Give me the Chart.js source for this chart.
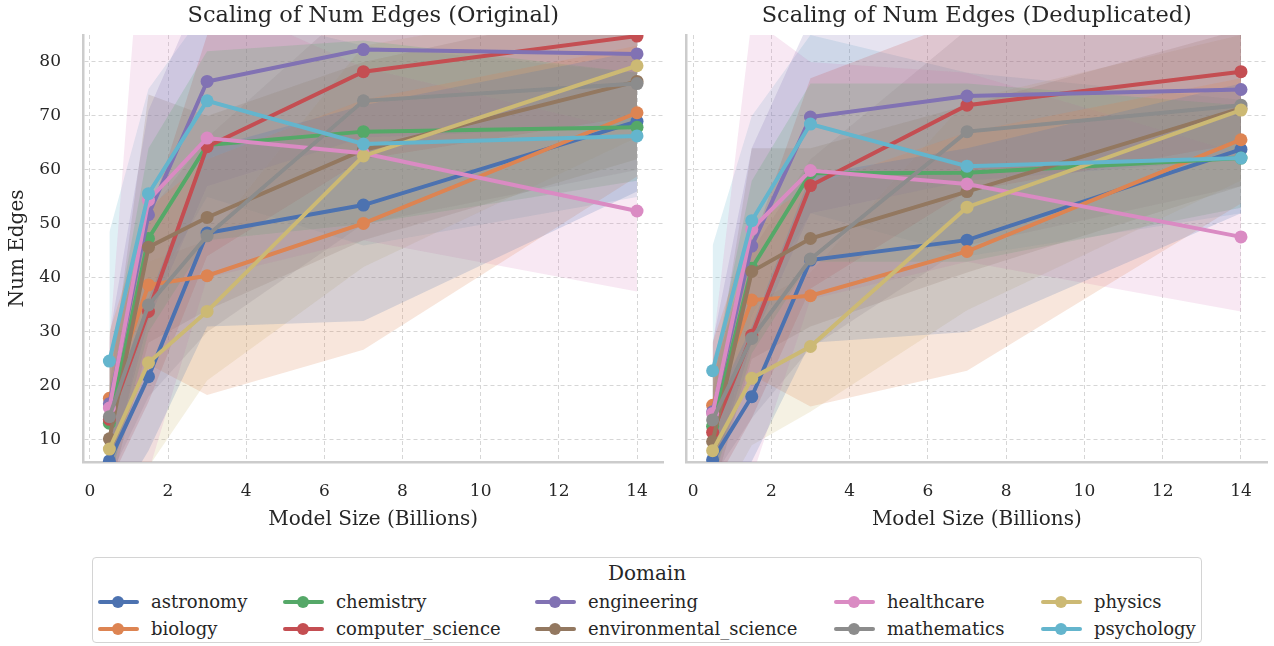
<!DOCTYPE html>
<html>
<head>
<meta charset="utf-8">
<script src="https://cdn.jsdelivr.net/npm/chart.js@4.4.1/dist/chart.umd.min.js"></script>
<style>
    body { margin: 0; background: #fff; width: 1274px; height: 646px; overflow: hidden; position: relative;
           font-family: "DejaVu Serif", serif; color: #262626; }
    canvas { position: absolute; top: 0; }
    #leftChart { left: 0; }
    #rightChart { left: 660px; }
    #legend { position: absolute; left: 92px; top: 557px; width: 1110px; height: 86px;
              border: 1.5px solid #d4d4d4; border-radius: 4px; box-sizing: border-box; }
    #legend .title { position: absolute; left: 0; width: 100%; top: 3px; text-align: center; font-size: 20px; }
    #legend .item { position: absolute; height: 22px; font-size: 18px; white-space: nowrap; }
    #legend .line { position: absolute; left: 0; top: 9px; width: 41px; height: 4px; border-radius: 2px; }
    #legend .dot { position: absolute; left: 14px; top: 5px; width: 12px; height: 12px; border-radius: 50%; }
    #legend .label { position: absolute; left: 53px; top: 0; line-height: 22px; }
</style>
</head>
<body>
<canvas id="leftChart" width="670" height="540"></canvas>
<canvas id="rightChart" width="614" height="540"></canvas>
<div id="legend"><div class="title">Domain</div></div>

<script>
// Data
const modelSizes = [0.5, 1.5, 3, 7, 14];
const domains = ["astronomy", "biology", "chemistry", "computer_science", "engineering",
                 "environmental_science", "healthcare", "mathematics", "physics", "psychology"];
const domainColors = ["#4c72b0", "#dd8452", "#55a868", "#c44e52", "#8172b3",
                      "#937860", "#da8bc3", "#8c8c8c", "#ccb974", "#64b5cd"];

// Original (mean, lower, upper per domain)
const origMean = [
    [6.1, 21.7, 48.3, 53.5, 69.0],
    [17.7, 38.7, 40.4, 50.1, 70.6],
    [13.1, 47.3, 64.6, 67.1, 67.9],
    [13.8, 33.8, 64.3, 78.2, 84.8],
    [16.7, 51.7, 76.4, 82.3, 81.5],
    [10.2, 45.7, 51.2, 63.7, 76.4],
    [15.9, 54.4, 65.9, 63.1, 52.4],
    [14.3, 35.0, 47.8, 72.8, 76.0],
    [8.3, 24.3, 33.8, 62.6, 79.3],
    [24.6, 55.6, 72.8, 64.8, 66.3]
];
const origLow = [
    [-4, 8, 31, 32, 56],
    [6, 24, 18.3, 26.7, 58.8],
    [2, 30, 47, 50, 58],
    [2, 17, 44, 62, 70],
    [4, 32, 57, 66, 68],
    [0, 28, 34, 47, 62],
    [3, 4, 40, 47, 37.5],
    [3, 18, 30, 50, 60],
    [-4, 5, 21, 42, 66],
    [1, 36, 55, 46, 55]
];
const origHigh = [
    [16, 36, 64, 72, 82],
    [30, 53, 62, 73, 83],
    [24, 64, 82, 84, 78],
    [25, 51, 85, 95, 100],
    [29, 71, 96, 98, 95],
    [20, 74, 70, 80, 91],
    [28, 122, 92, 79, 67],
    [26, 52, 66, 92, 92],
    [20, 43, 47, 83, 92],
    [48.5, 75, 90, 83, 78]
];

// Deduplicated
const dedupMean = [
    [6.3, 18.0, 43.3, 47.0, 63.8],
    [16.4, 35.9, 36.7, 44.9, 65.6],
    [12.5, 41.8, 59.4, 59.5, 62.2],
    [11.4, 29.4, 57.1, 72.0, 78.2],
    [15.2, 45.9, 69.8, 73.7, 74.9],
    [9.7, 41.2, 47.3, 56.0, 71.4],
    [14.9, 49.0, 59.9, 57.4, 47.6],
    [13.7, 28.8, 43.5, 67.1, 72.0],
    [8.0, 21.4, 27.3, 53.1, 71.1],
    [22.8, 50.6, 68.5, 60.7, 62.2]
];
const dedupLow = [
    [-4, 6, 28, 30, 52],
    [5, 22, 16.2, 22.8, 53.8],
    [2, 26, 43, 43, 53],
    [1, 14, 38, 56, 65],
    [3, 28, 52, 58, 62],
    [0, 25, 31, 41, 57],
    [2, 3, 36, 43, 33.8],
    [3, 14, 27, 46, 57],
    [-4, 9, 15.2, 34, 58],
    [1, 33, 52, 44, 52]
];
const dedupHigh = [
    [16, 31, 59, 64, 76],
    [28, 50, 57, 67, 77],
    [23, 58, 76, 76, 72],
    [22, 46, 77, 88, 92],
    [28, 64, 88, 90, 88],
    [19, 64, 64, 72, 86],
    [27, 88, 80, 78, 63],
    [25, 45, 62, 86, 88],
    [19, 35, 41, 73, 85],
    [46, 70, 85, 78, 73]
];

const yTicks = [10, 20, 30, 40, 50, 60, 70, 80];
const xTicks = [0, 2, 4, 6, 8, 10, 12, 14];

const FONT = '"DejaVu Serif", serif';
const TEXT = '#262626';

function rgba(hex, a) {
    let r = parseInt(hex.slice(1, 3), 16), g = parseInt(hex.slice(3, 5), 16), b = parseInt(hex.slice(5, 7), 16);
    return `rgba(${r},${g},${b},${a})`;
}

function toPoints(arr) {
    return modelSizes.map((x, k) => ({ x: x, y: arr[k] }));
}

function makeChart(id, title, means, lows, highs, showY) {
    let datasets = [];
    // bands first
    domains.forEach((d, i) => {
        datasets.push({ data: toPoints(highs[i]), fill: '+1', backgroundColor: rgba(domainColors[i], 0.2),
            borderColor: 'rgba(0,0,0,0)', borderWidth: 1, pointRadius: 0, order: 100 });
        datasets.push({ data: toPoints(lows[i]), fill: false, borderColor: 'rgba(0,0,0,0)',
            borderWidth: 1, pointRadius: 0, order: 100 });
    });
    // lines on top, last domain drawn last
    domains.forEach((d, i) => {
        datasets.push({ label: d, data: toPoints(means[i]), borderColor: domainColors[i],
            backgroundColor: domainColors[i], pointBackgroundColor: domainColors[i],
            pointBorderColor: domainColors[i], borderWidth: 4, pointRadius: 6.5, pointBorderWidth: 0,
            tension: 0, fill: false, order: 10 - i });
    });

    const gridOpts = { color: '#d6d6d6', lineWidth: 1, drawTicks: false };
    const borderOpts = { display: true, color: '#cccccc', width: 2.5, dash: [4, 3] };

    return new Chart(document.getElementById(id), {
        type: 'line',
        data: { datasets: datasets },
        options: {
            responsive: false,
            animation: false,
            layout: { padding: { left: 0, right: 6.6, top: 0, bottom: 0 } },
            plugins: {
                legend: { display: false },
                tooltip: { enabled: false },
                filler: { drawTime: 'beforeDatasetsDraw' },
                title: { display: true, text: title, fullSize: false, color: TEXT,
                         font: { family: FONT, size: 22.5, weight: 'normal' }, padding: { top: 2.5, bottom: 5.5 } }
            },
            scales: {
                x: {
                    type: 'linear', min: -0.175, max: 14.675,
                    afterBuildTicks: s => { s.ticks = xTicks.map(v => ({ value: v })); },
                    afterFit: s => { s.height = 78; },
                    ticks: { padding: 19, color: TEXT, font: { family: FONT, size: 17 }, maxRotation: 0, autoSkip: false },
                    grid: gridOpts, border: borderOpts,
                    title: { display: true, text: 'Model Size (Billions)', color: TEXT,
                             font: { family: FONT, size: 20 }, padding: { top: 0, bottom: 8 } }
                },
                y: {
                    min: 5.9, max: 85,
                    afterBuildTicks: s => { s.ticks = yTicks.map(v => ({ value: v })); },
                    afterFit: s => { s.width = showY ? 83 : 26.2; },
                    ticks: { display: showY, padding: 22, color: TEXT, font: { family: FONT, size: 17 } },
                    grid: gridOpts, border: borderOpts,
                    title: { display: showY, text: 'Num Edges', color: TEXT,
                             font: { family: FONT, size: 20 }, padding: { top: 6 } }
                }
            }
        }
    });
}

makeChart('leftChart', 'Scaling of Num Edges (Original)', origMean, origLow, origHigh, true);
makeChart('rightChart', 'Scaling of Num Edges (Deduplicated)', dedupMean, dedupLow, dedupHigh, false);

// Legend (5 columns x 2 rows)
const legendCols = [5, 190, 442, 741, 948];
const legendRows = [33, 60];
const legend = document.getElementById('legend');
domains.forEach((d, i) => {
    const col = Math.floor(i / 2), row = i % 2;
    const item = document.createElement('div');
    item.className = 'item';
    item.style.left = legendCols[col] + 'px';
    item.style.top = legendRows[row] + 'px';
    item.innerHTML = `<span class="line" style="background:${domainColors[i]}"></span>` +
                     `<span class="dot" style="background:${domainColors[i]}"></span>` +
                     `<span class="label">${d}</span>`;
    legend.appendChild(item);
});
</script>
</body>
</html>
